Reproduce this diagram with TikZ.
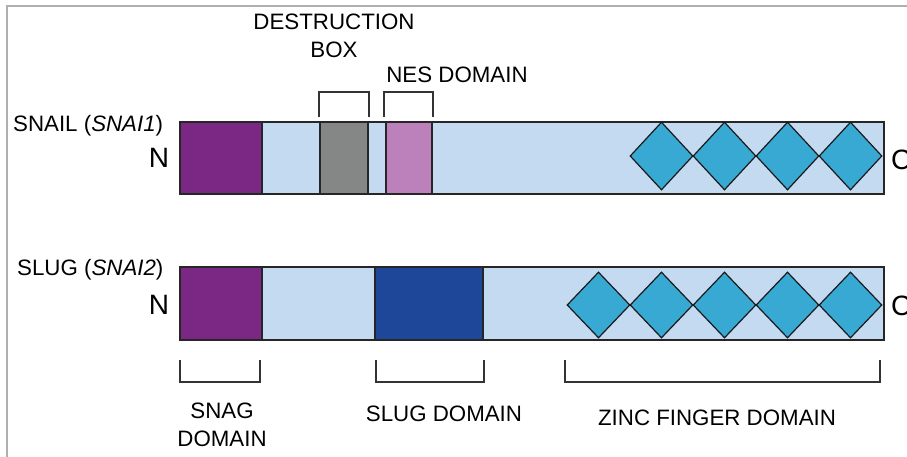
\documentclass[tikz,border=0pt]{standalone}
\usepackage{fontspec}
\setmainfont{Liberation Sans}
\usetikzlibrary{shapes.geometric}
\definecolor{snagpurple}{RGB}{123,40,132}
\definecolor{barblue}{RGB}{196,218,240}
\definecolor{dbgray}{RGB}{133,135,135}
\definecolor{nespink}{RGB}{188,128,186}
\definecolor{slugblue}{RGB}{30,70,153}
\definecolor{zfcyan}{RGB}{56,169,211}
\definecolor{framegray}{RGB}{175,175,175}
\tikzset{
  bar/.style={draw=black!85, line width=1.3pt, fill=barblue, rectangle, inner sep=0pt},
  seg/.style={draw=black!85, line width=1.3pt, rectangle, inner sep=0pt},
  zf/.style={draw=black!90, line width=1.2pt, fill=zfcyan, diamond, inner sep=0pt, minimum width=63pt},
  brk/.style={draw=black!80, line width=1.3pt},
  lbl/.style={font=\fontsize{22.3}{28}\selectfont, inner sep=0pt, align=center},
  term/.style={font=\fontsize{28}{30}\selectfont, inner sep=0pt}
}
\begin{document}
\begin{tikzpicture}[x=1pt,y=-1pt]
\useasboundingbox (0,0) rectangle (907,457);
% frame
\draw[framegray, line width=2pt] (7,457) -- (7,6) -- (907,6);

% SNAIL
\node[bar, minimum width=704pt, minimum height=72pt] (snailbar) at (532,158) {};
\node[seg, fill=snagpurple, minimum width=82pt, minimum height=72pt] (snailsnag) at (221,158) {};
\node[seg, fill=dbgray, minimum width=48pt, minimum height=72pt] (destbox) at (344,158) {};
\node[seg, fill=nespink, minimum width=46pt, minimum height=72pt] (nes) at (409,158) {};
\foreach \i/\x in {1/661.5,2/724.5,3/787.5,4/850.5}
  \node[zf, minimum height=68pt] (zfa\i) at (\x,156) {};
\node[lbl, anchor=west] (snaillbl) at (13,126) {SNAIL (\textit{SNAI1})};
\node[term] (n1) at (159,158) {N};
\node[term, anchor=west] (c1) at (891,160) {C};

% SLUG
\node[bar, minimum width=704pt, minimum height=73pt] (slugbar) at (532,303.5) {};
\node[seg, fill=snagpurple, minimum width=82pt, minimum height=73pt] (slugsnag) at (221,303.5) {};
\node[seg, fill=slugblue, minimum width=108pt, minimum height=73pt] (slugdom) at (429,303.5) {};
\foreach \i/\x in {1/598.5,2/661.5,3/724.5,4/787.5,5/850.5}
  \node[zf, minimum height=66pt] (zfb\i) at (\x,305) {};
\node[lbl, anchor=west] (sluglbl) at (17,270) {SLUG (\textit{SNAI2})};
\node[term] (n2) at (159,305) {N};
\node[term, anchor=west] (c2) at (891,306) {C};

% top brackets
\coordinate (d1) at (319,117); \coordinate (d2) at (319,92);
\coordinate (d3) at (369,92);  \coordinate (d4) at (369,117);
\draw[brk] (d1) -- (d2) -- (d3) -- (d4);
\coordinate (e1) at (384,117); \coordinate (e2) at (384,92);
\coordinate (e3) at (433,92);  \coordinate (e4) at (433,117);
\draw[brk] (e1) -- (e2) -- (e3) -- (e4);
\node[lbl] (destlbl) at (334,36) {DESTRUCTION\\BOX};
\node[lbl] (neslbl) at (457,75) {NES DOMAIN};

% bottom brackets
\coordinate (s1) at (180,360); \coordinate (s2) at (180,382);
\coordinate (s3) at (260,382); \coordinate (s4) at (260,360);
\draw[brk] (s1) -- (s2) -- (s3) -- (s4);
\coordinate (g1) at (376,360); \coordinate (g2) at (376,382);
\coordinate (g3) at (484,382); \coordinate (g4) at (484,360);
\draw[brk] (g1) -- (g2) -- (g3) -- (g4);
\coordinate (z1) at (565,360); \coordinate (z2) at (565,382);
\coordinate (z3) at (880,382); \coordinate (z4) at (880,360);
\draw[brk] (z1) -- (z2) -- (z3) -- (z4);
\node[lbl] (snaglbl) at (222,424.5) {SNAG\\DOMAIN};
\node[lbl] (sluglbl2) at (444,414) {SLUG DOMAIN};
\node[lbl] (zflbl) at (717,418) {ZINC FINGER DOMAIN};
\end{tikzpicture}
\end{document}
